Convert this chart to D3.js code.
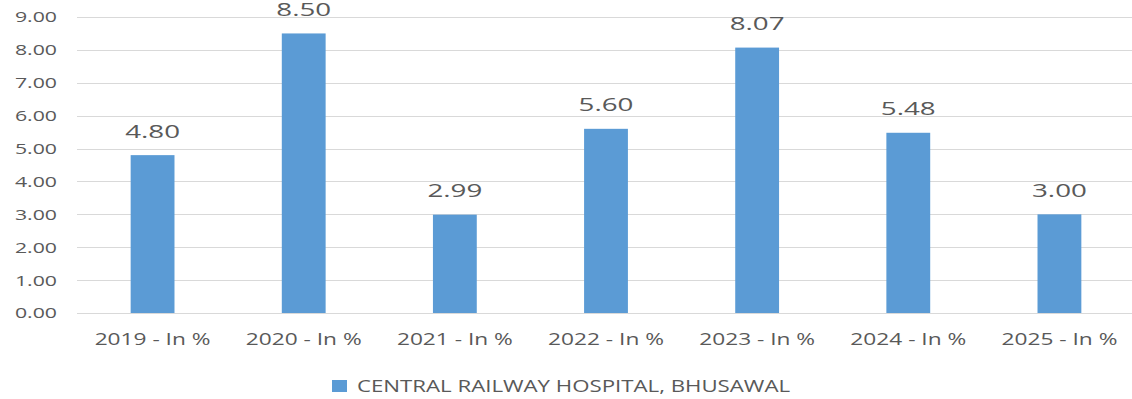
<!DOCTYPE html>
<html>
<head>
<meta charset="utf-8">
<script src="https://cdn.jsdelivr.net/npm/d3@7"></script>
<style>
  html, body { margin: 0; padding: 0; background: #ffffff; }
  svg { display: block; }
  text { font-family: "Open Sans", "Noto Sans", sans-serif; fill: #595959; }
</style>
</head>
<body>
<svg id="chart" width="1132" height="399"></svg>
<script>
// Yearly percentages for the hospital series
const categories = ["2019 - In %", "2020 - In %", "2021 - In %", "2022 - In %", "2023 - In %", "2024 - In %", "2025 - In %"];
const values = [4.80, 8.50, 2.99, 5.60, 8.07, 5.48, 3.00];
const yTicks = [0, 1, 2, 3, 4, 5, 6, 7, 8, 9];
const seriesName = "CENTRAL RAILWAY HOSPITAL, BHUSAWAL";

const barColor = "#5B9BD5";
const gridColor = "#D9D9D9";
const textStretch = 1.42; // wide letterforms

const svg = d3.select("#chart");
const plot = { left: 77, right: 1135, top: 17, bottom: 313 };

const x = d3.scaleBand()
  .domain(categories)
  .range([plot.left, plot.right])
  .paddingInner(0.71)
  .paddingOuter(0.355);

const y = d3.scaleLinear()
  .domain([0, 9])
  .range([plot.bottom, plot.top]);

// helper: horizontally stretched text anchored at (px, py)
function stretchedText(sel, px, py, sx = textStretch) {
  return sel.attr("transform", `translate(${px},${py}) scale(${sx},1)`);
}

// Gridlines
svg.append("g")
  .selectAll("line")
  .data(yTicks)
  .join("line")
  .attr("x1", plot.left)
  .attr("x2", 1132)
  .attr("y1", d => Math.round(y(d)) + 0.5)
  .attr("y2", d => Math.round(y(d)) + 0.5)
  .attr("stroke", gridColor)
  .attr("stroke-width", 1);

// Y axis labels
svg.append("g")
  .selectAll("text")
  .data(yTicks)
  .join("text")
  .each(function (d) { stretchedText(d3.select(this), 57, y(d)); })
  .attr("text-anchor", "end")
  .attr("dy", "0.36em")
  .style("font-size", "15px")
  .text(d => d3.format(".2f")(d));

// Bars
svg.append("g")
  .selectAll("rect")
  .data(values)
  .join("rect")
  .attr("x", (d, i) => x(categories[i]))
  .attr("width", x.bandwidth())
  .attr("y", d => y(d))
  .attr("height", d => y(0) - y(d))
  .attr("fill", barColor);

// Data labels
svg.append("g")
  .selectAll("text")
  .data(values)
  .join("text")
  .each(function (d, i) {
    stretchedText(d3.select(this), x(categories[i]) + x.bandwidth() / 2, y(d) - 17.5, 1.5);
  })
  .attr("text-anchor", "middle")
  .style("font-size", "18.5px")
  .text(d => d3.format(".2f")(d));

// Category labels
svg.append("g")
  .selectAll("text")
  .data(categories)
  .join("text")
  .each(function (d) { stretchedText(d3.select(this), x(d) + x.bandwidth() / 2, 345); })
  .attr("text-anchor", "middle")
  .style("font-size", "16px")
  .text(d => d);

// Legend
const legend = svg.append("g");
legend.append("rect")
  .attr("x", 332)
  .attr("y", 380)
  .attr("width", 15)
  .attr("height", 12)
  .attr("fill", barColor);
legend.append("text")
  .call(s => stretchedText(s, 357, 392, 1.39))
  .style("font-size", "16px")
  .text(seriesName);
</script>
</body>
</html>
